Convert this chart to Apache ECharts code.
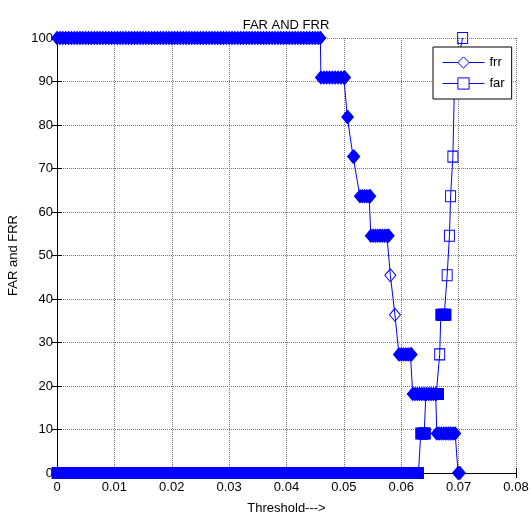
<!DOCTYPE html>
<html>
<head>
<meta charset="utf-8">
<script src="https://cdn.jsdelivr.net/npm/echarts@6/dist/echarts.min.js"></script>
<style>
  html, body { margin: 0; padding: 0; background: #fff; }
  #chart { width: 531px; height: 515px; }
</style>
</head>
<body>
<div id="chart"></div>
<script>
// threshold sweep
const frrX = [
  0, 0.0005, 0.001, 0.0015, 0.002, 0.0025, 0.003, 0.0035, 0.004, 0.0045,
  0.005, 0.0055, 0.006, 0.0065, 0.007, 0.0075, 0.008, 0.0085, 0.009, 0.0095,
  0.010, 0.0105, 0.011, 0.0115, 0.012, 0.0125, 0.013, 0.0135, 0.014, 0.0145,
  0.015, 0.0155, 0.016, 0.0165, 0.017, 0.0175, 0.018, 0.0185, 0.019, 0.0195,
  0.020, 0.0205, 0.021, 0.0215, 0.022, 0.0225, 0.023, 0.0235, 0.024, 0.0245,
  0.025, 0.0255, 0.026, 0.0265, 0.027, 0.0275, 0.028, 0.0285, 0.029, 0.0295,
  0.030, 0.0305, 0.031, 0.0315, 0.032, 0.0325, 0.033, 0.0335, 0.034, 0.0345,
  0.035, 0.0355, 0.036, 0.0365, 0.037, 0.0375, 0.038, 0.0385, 0.039, 0.0395,
  0.040, 0.0405, 0.041, 0.0415, 0.042, 0.0425, 0.043, 0.0435, 0.044, 0.0445,
  0.045, 0.0455, 0.0459,
  0.0460, 0.0465, 0.0470, 0.0475, 0.0480, 0.0485, 0.0490, 0.0495, 0.0500, 0.0502,
  0.0506, 0.0507,
  0.0516, 0.0518,
  0.0528, 0.0532, 0.0536, 0.0540, 0.0544, 0.0546,
  0.0547, 0.0551, 0.0555, 0.0559, 0.0563, 0.0567, 0.0571, 0.0575, 0.0578,
  0.0581,
  0.0589,
  0.0596, 0.0600, 0.0604, 0.0608, 0.0612, 0.0616, 0.0618,
  0.0620, 0.0624, 0.0628, 0.0632, 0.0636, 0.0640, 0.0644, 0.0648, 0.0652, 0.0656, 0.0660, 0.0661,
  0.0662, 0.0666, 0.0670, 0.0674, 0.0678, 0.0682, 0.0686, 0.0690, 0.0694,
  0.0699, 0.0702
];
const frrY = [
  100, 100, 100, 100, 100, 100, 100, 100, 100, 100,
  100, 100, 100, 100, 100, 100, 100, 100, 100, 100,
  100, 100, 100, 100, 100, 100, 100, 100, 100, 100,
  100, 100, 100, 100, 100, 100, 100, 100, 100, 100,
  100, 100, 100, 100, 100, 100, 100, 100, 100, 100,
  100, 100, 100, 100, 100, 100, 100, 100, 100, 100,
  100, 100, 100, 100, 100, 100, 100, 100, 100, 100,
  100, 100, 100, 100, 100, 100, 100, 100, 100, 100,
  100, 100, 100, 100, 100, 100, 100, 100, 100, 100,
  100, 100, 100,
  90.91, 90.91, 90.91, 90.91, 90.91, 90.91, 90.91, 90.91, 90.91, 90.91,
  81.82, 81.82,
  72.73, 72.73,
  63.64, 63.64, 63.64, 63.64, 63.64, 63.64,
  54.55, 54.55, 54.55, 54.55, 54.55, 54.55, 54.55, 54.55, 54.55,
  45.45,
  36.36,
  27.27, 27.27, 27.27, 27.27, 27.27, 27.27, 27.27,
  18.18, 18.18, 18.18, 18.18, 18.18, 18.18, 18.18, 18.18, 18.18, 18.18, 18.18, 18.18,
  9.09, 9.09, 9.09, 9.09, 9.09, 9.09, 9.09, 9.09, 9.09,
  0, 0
];

const farX = [
  0, 0.0005, 0.001, 0.0015, 0.002, 0.0025, 0.003, 0.0035, 0.004, 0.0045,
  0.005, 0.0055, 0.006, 0.0065, 0.007, 0.0075, 0.008, 0.0085, 0.009, 0.0095,
  0.010, 0.0105, 0.011, 0.0115, 0.012, 0.0125, 0.013, 0.0135, 0.014, 0.0145,
  0.015, 0.0155, 0.016, 0.0165, 0.017, 0.0175, 0.018, 0.0185, 0.019, 0.0195,
  0.020, 0.0205, 0.021, 0.0215, 0.022, 0.0225, 0.023, 0.0235, 0.024, 0.0245,
  0.025, 0.0255, 0.026, 0.0265, 0.027, 0.0275, 0.028, 0.0285, 0.029, 0.0295,
  0.030, 0.0305, 0.031, 0.0315, 0.032, 0.0325, 0.033, 0.0335, 0.034, 0.0345,
  0.035, 0.0355, 0.036, 0.0365, 0.037, 0.0375, 0.038, 0.0385, 0.039, 0.0395,
  0.040, 0.0405, 0.041, 0.0415, 0.042, 0.0425, 0.043, 0.0435, 0.044, 0.0445,
  0.045, 0.0455, 0.046, 0.0465, 0.047, 0.0475, 0.048, 0.0485, 0.049, 0.0495,
  0.050, 0.0505, 0.051, 0.0515, 0.052, 0.0525, 0.053, 0.0535, 0.054, 0.0545,
  0.055, 0.0555, 0.056, 0.0565, 0.057, 0.0575, 0.058, 0.0585, 0.059, 0.0595,
  0.060, 0.0605, 0.061, 0.0615, 0.062, 0.0625, 0.063,
  0.0634, 0.0637, 0.0640, 0.0642,
  0.0643, 0.0646, 0.0649, 0.0652, 0.0655, 0.0658, 0.0661, 0.0664, 0.0665,
  0.0667,
  0.0669, 0.0672, 0.0675, 0.0678,
  0.0680,
  0.0684,
  0.0686,
  0.0690,
  0.0693,
  0.0707
];
const farY = [
  0, 0, 0, 0, 0, 0, 0, 0, 0, 0,
  0, 0, 0, 0, 0, 0, 0, 0, 0, 0,
  0, 0, 0, 0, 0, 0, 0, 0, 0, 0,
  0, 0, 0, 0, 0, 0, 0, 0, 0, 0,
  0, 0, 0, 0, 0, 0, 0, 0, 0, 0,
  0, 0, 0, 0, 0, 0, 0, 0, 0, 0,
  0, 0, 0, 0, 0, 0, 0, 0, 0, 0,
  0, 0, 0, 0, 0, 0, 0, 0, 0, 0,
  0, 0, 0, 0, 0, 0, 0, 0, 0, 0,
  0, 0, 0, 0, 0, 0, 0, 0, 0, 0,
  0, 0, 0, 0, 0, 0, 0, 0, 0, 0,
  0, 0, 0, 0, 0, 0, 0, 0, 0, 0,
  0, 0, 0, 0, 0, 0, 0,
  9.09, 9.09, 9.09, 9.09,
  18.18, 18.18, 18.18, 18.18, 18.18, 18.18, 18.18, 18.18, 18.18,
  27.27,
  36.36, 36.36, 36.36, 36.36,
  45.45,
  54.55,
  63.64,
  72.73,
  90.91,
  100
];

const BLUE = "#0000ff";
const FONT = "'Liberation Sans', Arial, sans-serif";

// overlapping markers read as solid in the original, lone ones stay hollow
function toPoints(xs, ys) {
  return xs.map((x, i) => {
    const crowded = [i - 1, i + 1].some(
      (j) => j >= 0 && j < xs.length && ys[j] === ys[i] && Math.abs(xs[j] - x) < 0.00051,
    );
    const point = { value: [x, ys[i]] };
    if (crowded) point.itemStyle = { color: BLUE };
    return point;
  });
}

function lineSeries(name, symbol, size, xs, ys) {
  return {
    name,
    type: "line",
    xAxisIndex: 0,
    yAxisIndex: 0,
    symbol,
    symbolSize: size,
    showAllSymbol: true,
    lineStyle: { color: BLUE, width: 1 },
    itemStyle: { color: "rgba(0,0,255,0)", borderColor: BLUE, borderWidth: 1 },
    emphasis: { disabled: true },
    data: toPoints(xs, ys),
  };
}

const axisText = { color: "#000", fontFamily: FONT, fontSize: 13 };
const tickStyle = { show: true, inside: true, length: 5, lineStyle: { color: "#000" } };
const gridLine = { show: true, lineStyle: { color: "#777", type: [1, 1], width: 1 } };

const chart = echarts.init(document.getElementById("chart"), null, { renderer: "canvas" });
chart.setOption({
  animation: false,
  backgroundColor: "#fff",
  title: {
    text: "FAR AND FRR",
    left: 281,
    top: 14,
    textAlign: "center",
    textStyle: { color: "#000", fontFamily: FONT, fontSize: 13, fontWeight: "normal" },
  },
  legend: {
    orient: "vertical",
    left: 433,
    top: 47,
    padding: [9, 7, 9, 9],
    itemWidth: 42,
    itemHeight: 14,
    itemGap: 8,
    backgroundColor: "#fff",
    borderColor: "#000",
    borderWidth: 1,
    borderRadius: 0,
    textStyle: axisText,
    lineStyle: { width: 1 },
    itemStyle: { color: "#fff", borderWidth: 1 },
    data: ["frr", "far"],
  },
  grid: { left: 57, right: 15, top: 38, bottom: 42, outerBoundsMode: "none" },
  xAxis: [
    {
      type: "value",
      min: 0,
      max: 0.08,
      interval: 0.01,
      name: "Threshold--->",
      nameLocation: "middle",
      nameGap: 29,
      nameTextStyle: axisText,
      axisLine: { lineStyle: { color: "#000", width: 1 } },
      axisTick: tickStyle,
      axisLabel: { ...axisText, margin: 8 },
      splitLine: gridLine,
    },
    {
      type: "value",
      position: "top",
      min: 0,
      max: 0.08,
      interval: 0.01,
      axisLine: { show: true, lineStyle: { color: "#000", width: 1 } },
      axisTick: tickStyle,
      axisLabel: { show: false },
      splitLine: { show: false },
    },
  ],
  yAxis: [
    {
      type: "value",
      min: 0,
      max: 100,
      interval: 10,
      name: "FAR and FRR",
      nameLocation: "middle",
      nameRotate: 90,
      nameGap: 35,
      nameTextStyle: axisText,
      axisLine: { show: true, lineStyle: { color: "#000", width: 1 } },
      axisTick: tickStyle,
      axisLabel: { ...axisText, margin: 4 },
      splitLine: gridLine,
    },
    {
      type: "value",
      position: "right",
      min: 0,
      max: 100,
      interval: 10,
      axisLine: { show: true, lineStyle: { color: "#000", width: 1 } },
      axisTick: tickStyle,
      axisLabel: { show: false },
      splitLine: { show: false },
    },
  ],
  series: [
    lineSeries("frr", "diamond", [11, 13], frrX, frrY),
    lineSeries("far", "rect", [10, 11], farX, farY),
  ],
});
</script>
</body>
</html>
